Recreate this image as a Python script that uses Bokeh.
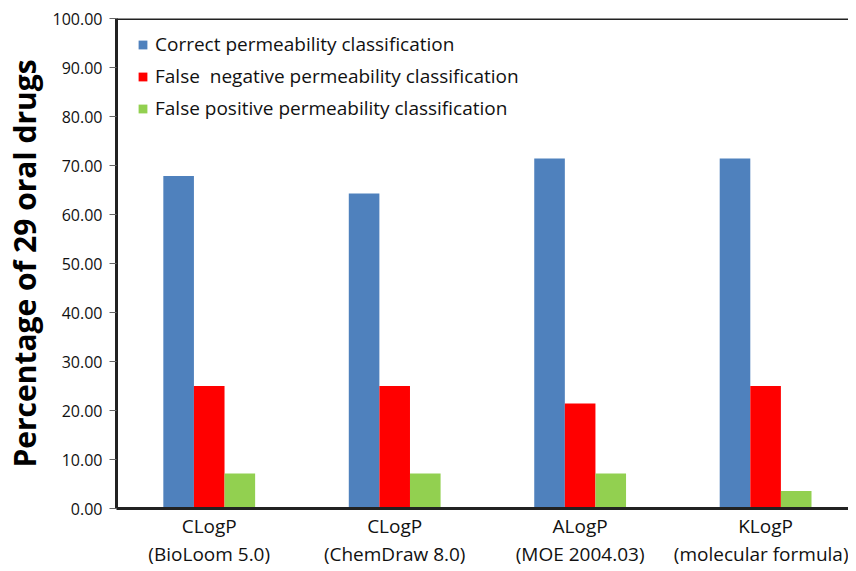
from bokeh.plotting import figure
from bokeh.models import (ColumnDataSource, Range1d, FixedTicker, PrintfTickFormatter,
                          Span, Legend, LegendItem, LinearAxis)
from bokeh.transform import dodge
from bokeh.embed import file_html
from bokeh.resources import INLINE

# ---- data ----
methods = ["CLogP", "CLogP", "ALogP", "KLogP"]
programs = ["(BioLoom 5.0)", "(ChemDraw 8.0)", "(MOE 2004.03)", "(molecular formula)"]
correct = [67.86, 64.29, 71.43, 71.43]
false_negative = [25.00, 25.00, 21.43, 25.00]
false_positive = [7.14, 7.14, 7.14, 3.57]
series_names = ["Correct permeability classification",
                "False  negative permeability classification",
                "False positive permeability classification"]
series_colors = ["#4F81BD", "#FF0000", "#92D050"]
y_ticks = [0, 10, 20, 30, 40, 50, 60, 70, 80, 90, 100]

FONT = "Open Sans"

pos = [i + 0.5 for i in range(len(methods))]
src = ColumnDataSource(dict(x=pos, c=correct, fn=false_negative, fp=false_positive))

p = figure(width=848, height=569, output_backend="svg", toolbar_location=None,
           x_range=Range1d(0, 3.947), y_range=Range1d(0, 100),
           min_border_left=108, min_border_right=0, min_border_top=18,
           min_border_bottom=55)
p.outline_line_color = None
p.xgrid.visible = False
p.ygrid.visible = False

bw = 0.165
r1 = p.vbar(x=dodge("x", -bw, range=p.x_range), top="c", width=bw, source=src,
            color=series_colors[0], line_color=None)
r2 = p.vbar(x=dodge("x", 0, range=p.x_range), top="fn", width=bw, source=src,
            color=series_colors[1], line_color=None)
r3 = p.vbar(x=dodge("x", bw, range=p.x_range), top="fp", width=bw, source=src,
            color=series_colors[2], line_color=None)

# top border
p.add_layout(Span(location=100, dimension="width", line_color="#222222", line_width=3))

# y axis
p.yaxis.ticker = FixedTicker(ticks=y_ticks)
p.yaxis.formatter = PrintfTickFormatter(format="%.2f")
p.yaxis.axis_line_width = 3
p.yaxis.axis_line_color = "#222222"
p.yaxis.major_tick_out = 7
p.yaxis.major_tick_in = 0
p.yaxis.major_tick_line_color = "#666666"
p.yaxis.minor_tick_line_color = None
p.yaxis.major_label_text_font = FONT
p.yaxis.major_label_text_font_size = "16px"
p.yaxis.major_label_text_color = "#111111"
p.yaxis.major_label_standoff = 7
p.yaxis.axis_label = "Percentage of 29 oral drugs"
p.yaxis.axis_label_text_font = FONT
p.yaxis.axis_label_text_font_size = "30px"
p.yaxis.axis_label_text_font_style = "bold"
p.yaxis.axis_label_text_color = "#000000"
p.yaxis.axis_label_standoff = 5

# x axis: first label line
p.xaxis.ticker = FixedTicker(ticks=pos)
p.xaxis.major_label_overrides = {pos[i]: methods[i] for i in range(len(methods))}
p.xaxis.axis_line_width = 3
p.xaxis.axis_line_color = "#222222"
p.xaxis.major_tick_line_color = None
p.xaxis.minor_tick_line_color = None
p.xaxis.major_tick_out = 0
p.xaxis.major_tick_in = 0
p.xaxis.major_label_standoff = 4
p.xaxis.major_label_text_font = FONT
p.xaxis.major_label_text_font_size = "19px"
p.xaxis.major_label_text_color = "#111111"

# second label line
ax2 = LinearAxis(ticker=FixedTicker(ticks=pos),
                 major_label_overrides={pos[i]: programs[i] for i in range(len(programs))},
                 axis_line_color=None, major_tick_line_color=None,
                 minor_tick_line_color=None, major_tick_out=0, major_tick_in=0,
                 major_label_standoff=-1, major_label_text_font=FONT,
                 major_label_text_font_size="19px", major_label_text_color="#111111")
p.add_layout(ax2, "below")

legend = Legend(items=[LegendItem(label=series_names[0], renderers=[r1]),
                       LegendItem(label=series_names[1], renderers=[r2]),
                       LegendItem(label=series_names[2], renderers=[r3])],
                location=(21, 387), padding=0, margin=0, spacing=6,
                glyph_width=11, glyph_height=11, label_height=20,
                label_standoff=7, label_text_font=FONT,
                label_text_font_size="19px", label_text_color="#111111",
                background_fill_alpha=0, border_line_color=None)
p.add_layout(legend, "center")

open("out.html", "w").write(file_html(p, INLINE))
